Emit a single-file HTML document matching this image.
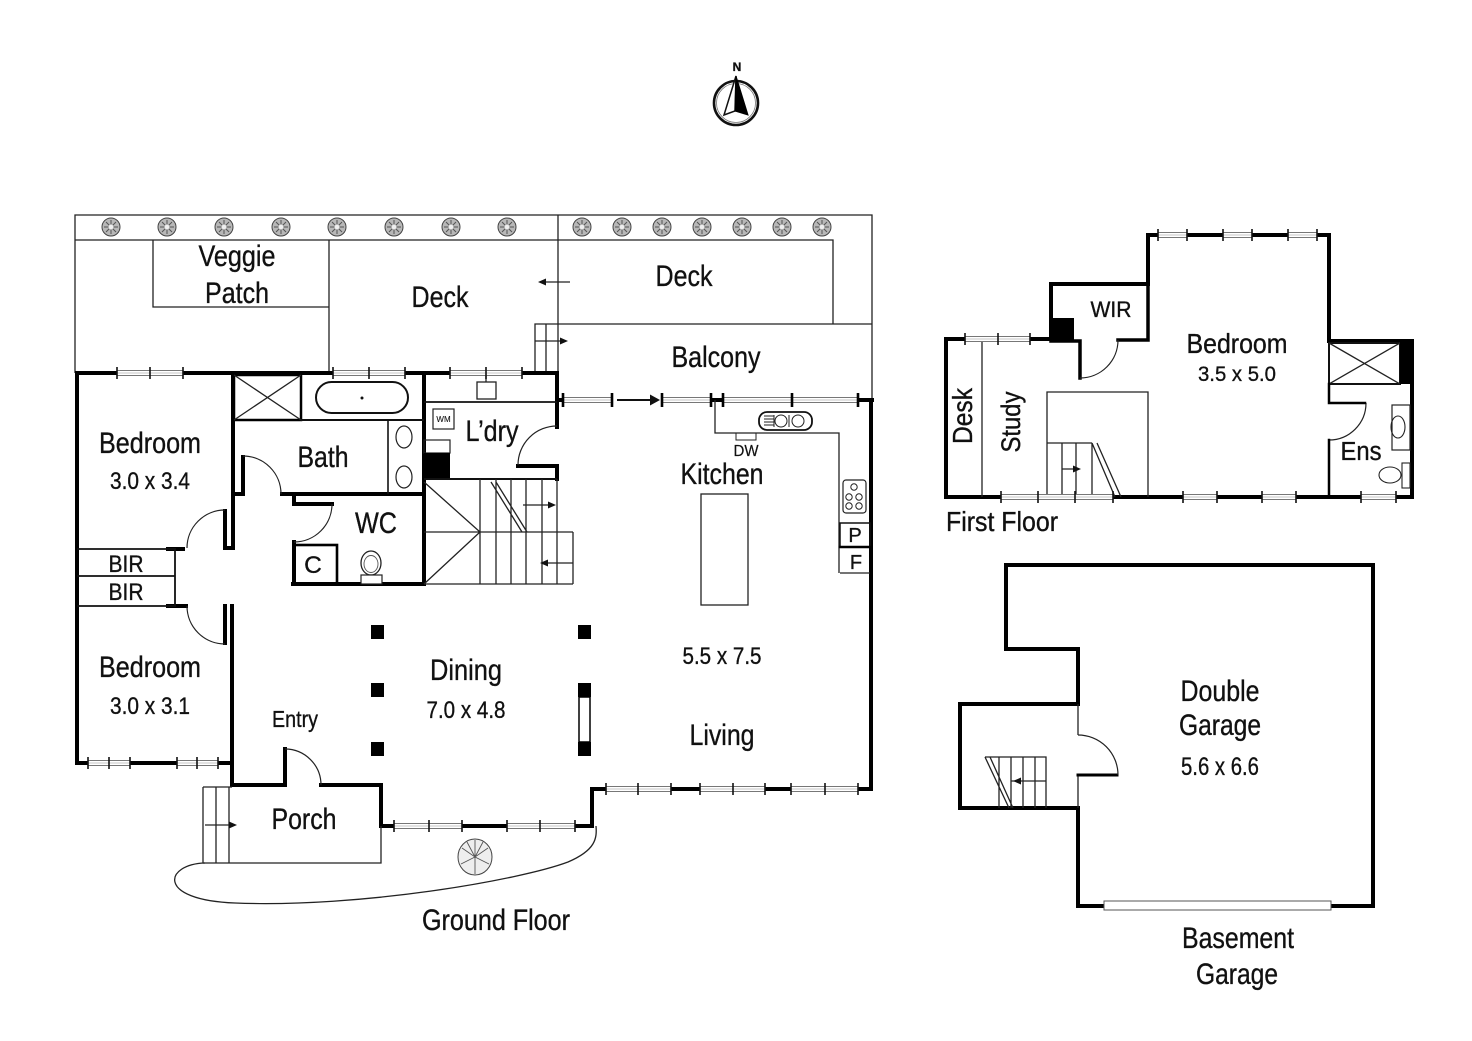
<!DOCTYPE html>
<html><head><meta charset="utf-8"><style>
html,body{margin:0;padding:0;background:#fff;}
svg{display:block;}
text{font-family:"Liberation Sans",Arial,sans-serif;fill:#111;stroke:#111;stroke-width:0.35;}
.th{stroke:#000;stroke-width:4;fill:none;stroke-linecap:square;}
.tn{stroke:#222;stroke-width:1.3;fill:none;}
.md{stroke:#111;stroke-width:2.2;fill:none;}
.dr{stroke:#222;stroke-width:1.2;fill:none;}
.wr{fill:#fff;}
.wl{stroke:#777;stroke-width:1;fill:none;}
.wc{stroke:#c4c4c4;stroke-width:1;fill:none;}
.wt{stroke:#111;stroke-width:1.6;fill:none;}
</style></head><body>
<svg width="1472" height="1041" viewBox="0 0 1472 1041" xmlns="http://www.w3.org/2000/svg">
<defs>
<g id="t"><circle r="9" fill="#b8b8b8" stroke="#444" stroke-width="1"/><path d="M-7,0H7M0,-7V7M-5,-5L5,5M-5,5L5,-5" stroke="#555" stroke-width="1"/><circle r="2.5" fill="#eee"/></g>
</defs>

<!-- North arrow -->
<circle cx="736" cy="103" r="22" fill="none" stroke="#111" stroke-width="2.6"/>
<circle cx="736" cy="103" r="19.5" fill="none" stroke="#777" stroke-width="0.8"/>
<path d="M736,76 L724,115 L735,111 Z" fill="#fff" stroke="#111" stroke-width="1.5"/>
<path d="M736,76 L748,115 L735,111 Z" fill="#000" stroke="#000" stroke-width="1"/>
<text x="737" y="71" font-size="12" font-weight="bold" text-anchor="middle">N</text>

<!-- Site thin lines -->
<path class="tn" d="M75,373V215H872V400 M75,240H833V324 M153,240V307H329 M329,240V373 M558,215V373 M535,373V324H872 M546,324V373"/>
<path class="tn" d="M540,282H570 M535,341H564"/>
<path d="M538,282 l8,-3.5 v7z M568,341 l-8,-3.5 v7z" fill="#111"/>

<!-- trees -->
<use href="#t" x="111" y="227"/><use href="#t" x="167" y="227"/><use href="#t" x="224" y="227"/><use href="#t" x="281" y="227"/>
<use href="#t" x="337" y="227"/><use href="#t" x="394" y="227"/><use href="#t" x="451" y="227"/><use href="#t" x="507" y="227"/>
<use href="#t" x="582" y="227"/><use href="#t" x="622" y="227"/><use href="#t" x="662" y="227"/><use href="#t" x="702" y="227"/>
<use href="#t" x="742" y="227"/><use href="#t" x="782" y="227"/><use href="#t" x="822" y="227"/>

<!-- Ground floor thick walls -->
<path class="th" d="M77,373H557V427 M77,373V763H232 M233,373V548 M225,511V548H233 M232,606V785H285V749 M225,606V643 M321,785H381V826H592V789H871V400 M858,400H872 M710,400H723 M557,400H563 M518,466H557V479 M424,373V584 M293,584H424 M282,494H424 M233,494H243V457 M294,494V504H332 M294,542V584"/>
<path class="th" d="M168,549H183 M168,606H186"/>
<!-- BIR -->
<path class="md" d="M77,549H175V606H77 M77,576H175" style="stroke-width:1.8"/>
<!-- shower -->
<rect x="234" y="375" width="67" height="45" fill="none" stroke="#000" stroke-width="2.5"/>
<path class="tn" d="M234,375L301,420M301,375L234,420"/>
<path class="md" d="M301,420H424" style="stroke-width:2"/>
<rect x="316" y="382" width="92" height="31" rx="15.5" fill="none" stroke="#111" stroke-width="2"/>
<circle cx="362" cy="398" r="1.5" fill="#111"/>
<path class="md" d="M388,420V494" style="stroke-width:1.6"/>
<ellipse cx="404" cy="437" rx="8" ry="11" fill="none" stroke="#222" stroke-width="1.2"/>
<ellipse cx="404" cy="477" rx="8" ry="11" fill="none" stroke="#222" stroke-width="1.2"/>
<!-- WC -->
<rect x="294" y="545" width="43" height="39" fill="none" stroke="#000" stroke-width="2.6"/>
<ellipse cx="371" cy="563" rx="10" ry="12" fill="none" stroke="#222" stroke-width="1.3"/>
<ellipse cx="371" cy="564" rx="7" ry="8.5" fill="none" stroke="#555" stroke-width="0.9"/>
<rect x="361" y="575" width="21" height="9" fill="#fff" stroke="#222" stroke-width="1.2"/>
<!-- laundry -->
<path class="md" d="M424,402H557" style="stroke-width:1.8"/>
<rect x="477" y="382" width="19" height="17" fill="none" stroke="#222" stroke-width="1.3"/>
<path class="tn" d="M486,373V382"/>
<rect x="433" y="409" width="21" height="20" fill="none" stroke="#222" stroke-width="1.2"/>
<text x="443.5" y="422" font-size="8" text-anchor="middle" style="stroke-width:0.1">WM</text>
<rect x="424" y="440" width="26" height="13" fill="none" stroke="#222" stroke-width="1.2"/>
<rect x="424" y="453" width="26" height="26" fill="#000"/>
<!-- GF stairs -->
<path class="md" d="M424,479H557" style="stroke-width:2"/>
<path class="tn" d="M480,479V584 M496,479V584 M511,479V584 M526,479V584 M542,479V584 M557,479V584 M573,532V584 M424,532H573 M424,584H573 M424,482L480,532L424,584 M491,482L522,532 M496,482L527,532"/>
<path class="tn" d="M523,505H550 M548,563H573"/>
<path d="M556,505 l-8,-3.5 v7z M540,563 l8,-3.5 v7z" fill="#111"/>
<!-- doors -->
<path class="dr" d="M557,426 A39,39 0 0 0 518,465 M243,456 A38,38 0 0 1 281,494 M332,504 A38,38 0 0 1 294,542 M225,510 A38,38 0 0 0 187,548 M187,606 A38,38 0 0 0 225,644 M285,749 A36,36 0 0 1 321,785"/>
<!-- kitchen -->
<path class="tn" d="M715,400V433H839V573 M840,573H870"/>
<rect x="840" y="523" width="30" height="24" fill="none" stroke="#111" stroke-width="1.5"/>
<path class="th" d="M840,547H870" style="stroke-width:2.5"/>
<rect x="843" y="480" width="23" height="33" rx="3" fill="none" stroke="#222" stroke-width="1.2"/>
<g fill="none" stroke="#222" stroke-width="1"><circle cx="854" cy="487" r="3.2"/><circle cx="849" cy="497" r="3.2"/><circle cx="859" cy="497" r="3.2"/><circle cx="849" cy="506" r="3.2"/><circle cx="859" cy="506" r="3.2"/></g>
<rect x="759" y="412" width="53" height="18" rx="8" fill="#fff" stroke="#111" stroke-width="1.8"/>
<path class="tn" d="M764,416H774M764,419H774M764,422H774M764,425H774 M774,415V427 M789,415V427" style="stroke-width:1"/>
<circle cx="781" cy="421" r="6" fill="none" stroke="#222" stroke-width="1"/>
<circle cx="798" cy="421" r="6" fill="none" stroke="#222" stroke-width="1"/>
<rect x="736" y="433" width="20" height="7" fill="none" stroke="#222" stroke-width="1"/>
<rect x="701" y="494" width="47" height="111" fill="none" stroke="#222" stroke-width="1.3"/>
<path d="M617,400H652" stroke="#111" stroke-width="2"/>
<path d="M650,394.5 L660,400 L650,405.5Z" fill="#111"/>
<!-- dining pillars -->
<g fill="#000"><rect x="371" y="625" width="13" height="14"/><rect x="371" y="683" width="13" height="14"/><rect x="371" y="742" width="13" height="14"/>
<rect x="578" y="625" width="13" height="14"/><rect x="578" y="683" width="13" height="14"/><rect x="578" y="742" width="13" height="14"/></g>
<rect x="579" y="697" width="11" height="45" fill="#fff" stroke="#000" stroke-width="1.5"/>
<!-- porch & path -->
<path class="tn" d="M203,863H381V826 M203,787V863 M216,787V863 M229,787V863 M203,787H232"/>
<path class="tn" d="M205,825H230"/>
<path d="M237,825 l-8,-3.5 v7z" fill="#111"/>
<path class="tn" d="M205,863 C165,864 155,900 235,903 C360,908 520,880 568,862 C596,850 597,838 596,826"/>
<ellipse cx="475" cy="857" rx="17" ry="18" fill="#eee" stroke="#444" stroke-width="1"/>
<path d="M475,840V874 M462,848L475,857L488,848 M461,864L475,857L489,864 M467,842L475,857L483,842" stroke="#555" stroke-width="0.9" fill="none"/>

<!-- First floor -->
<path class="th" d="M946,339H1051V284H1148V235H1329V341H1412V497H946Z"/>
<rect x="1051" y="318" width="23" height="23" fill="#000"/>
<path class="th" d="M1051,341H1080V378 M1118,340H1148V284" style="stroke-width:3.5"/>
<path class="dr" d="M1080,378 A38,38 0 0 0 1118,340 M1366,403 A37,37 0 0 1 1329,440"/>
<path class="tn" d="M982,339V497 M1047,497V392H1148V497 M1047,443H1092 M1062,443V497 M1076,443V497 M1092,443V497 M1092,443L1115,497 M1097,443L1121,497 M1062,469H1076"/>
<path d="M1081,469 l-8,-3.5 v7z" fill="#111"/>
<rect x="1329" y="343" width="71" height="41" fill="none" stroke="#111" stroke-width="2"/>
<path class="tn" d="M1329,343L1400,384M1400,343L1329,384"/>
<rect x="1400" y="341" width="12" height="43" fill="#000"/>
<path class="th" d="M1329,384V403H1365 M1329,440V497" style="stroke-width:2.5"/>
<rect x="1392" y="405" width="18" height="45" fill="none" stroke="#222" stroke-width="1.2"/>
<ellipse cx="1398" cy="427" rx="7" ry="11" fill="none" stroke="#222" stroke-width="1.1"/>
<ellipse cx="1390" cy="475" rx="11" ry="8" fill="none" stroke="#222" stroke-width="1.1"/>
<rect x="1402" y="463" width="8" height="25" fill="#fff" stroke="#222" stroke-width="1.1"/>

<!-- Garage -->
<path class="th" d="M1078,704H960V808H1078V906H1373V565H1006V649H1078V704"/>
<path class="tn" d="M1078,704V735 M1078,775V808"/>
<path class="th" d="M1078,775H1117" style="stroke-width:3"/>
<path class="dr" d="M1078,735 A40,40 0 0 1 1118,775"/>
<path class="tn" d="M985,757H1046V808 M999,757V808 M1011,757V808 M1023,757V808 M1035,757V808 M1011,781H1046 M985,757L1009,808 M990,757L1013,808 M1020,781H1035"/>
<path d="M1013,781 l8,-3.5 v7z" fill="#111"/>
<rect x="1104" y="901" width="227" height="9" fill="#fff" stroke="#555" stroke-width="1"/>

<!-- Windows -->
<g class="wr">
<rect x="117" y="370" width="66" height="6"/><rect x="333" y="370" width="72" height="6"/><rect x="450" y="370" width="72" height="6"/>
<rect x="88" y="760" width="42" height="6"/><rect x="177" y="760" width="41" height="6"/>
<rect x="394" y="823" width="68" height="6"/><rect x="507" y="823" width="68" height="6"/>
<rect x="606" y="786" width="65" height="6"/><rect x="700" y="786" width="65" height="6"/><rect x="791" y="786" width="67" height="6"/>
<rect x="563" y="397" width="49" height="6"/><rect x="662" y="397" width="49" height="6"/><rect x="723" y="397" width="135" height="6"/>
<rect x="965" y="336" width="65" height="6"/><rect x="1158" y="232" width="29" height="6"/><rect x="1223" y="232" width="29" height="6"/><rect x="1288" y="232" width="29" height="6"/>
<rect x="1001" y="494" width="112" height="6"/><rect x="1183" y="494" width="34" height="6"/><rect x="1262" y="494" width="34" height="6"/><rect x="1361" y="494" width="35" height="6"/>
</g>
<path class="wl" d="M117,370.5H183M117,375.5H183 M333,370.5H405M333,375.5H405 M450,370.5H522M450,375.5H522 M88,760.5H130M88,765.5H130 M177,760.5H218M177,765.5H218 M394,823.5H462M394,828.5H462 M507,823.5H575M507,828.5H575 M606,786.5H671M606,791.5H671 M700,786.5H765M700,791.5H765 M791,786.5H858M791,791.5H858 M563,397.5H612M563,402.5H612 M662,397.5H711M662,402.5H711 M723,397.5H858M723,402.5H858 M965,336.5H1030M965,341.5H1030 M1158,232.5H1187M1158,237.5H1187 M1223,232.5H1252M1223,237.5H1252 M1288,232.5H1317M1288,237.5H1317 M1001,494.5H1113M1001,499.5H1113 M1183,494.5H1217M1183,499.5H1217 M1262,494.5H1296M1262,499.5H1296 M1361,494.5H1396M1361,499.5H1396"/>
<path class="wc" d="M117,373H183 M333,373H405 M450,373H522 M88,763H130 M177,763H218 M394,826H462 M507,826H575 M606,789H671 M700,789H765 M791,789H858 M563,400H612 M662,400H711 M723,400H858 M965,339H1030 M1158,235H1187 M1223,235H1252 M1288,235H1317 M1001,497H1113 M1183,497H1217 M1262,497H1296 M1361,497H1396"/>
<path class="wt" d="M117,367V379M183,367V379M150,367V379 M333,367V379M405,367V379M369,367V379 M450,367V379M522,367V379M486,367V379 M88,757V769M130,757V769M109,757V769 M177,757V769M218,757V769M197,757V769 M394,820V832M462,820V832M429,820V832 M507,820V832M575,820V832M540,820V832 M606,783V795M671,783V795M638,783V795 M700,783V795M765,783V795M733,783V795 M791,783V795M858,783V795M825,783V795 M965,333V345M1030,333V345M998,333V345 M1158,229V241M1187,229V241 M1223,229V241M1252,229V241 M1288,229V241M1317,229V241 M1001,491V503M1113,491V503M1038,491V503M1075,491V503 M1183,491V503M1217,491V503 M1262,491V503M1296,491V503 M1361,491V503M1396,491V503"/>
<path d="M563,393V407 M612,393V407 M662,393V407 M711,393V407 M723,393V407 M858,393V407 M792,393V407" stroke="#000" stroke-width="2.6"/>

<!-- Labels -->
<g font-size="29.5" text-anchor="middle">
<text x="237" y="266" textLength="77" lengthAdjust="spacingAndGlyphs">Veggie</text>
<text x="237" y="303" textLength="64" lengthAdjust="spacingAndGlyphs">Patch</text>
<text x="440" y="307" textLength="57" lengthAdjust="spacingAndGlyphs">Deck</text>
<text x="684" y="286" textLength="57" lengthAdjust="spacingAndGlyphs">Deck</text>
<text x="716" y="367" textLength="89" lengthAdjust="spacingAndGlyphs">Balcony</text>
<text x="150" y="453" textLength="102" lengthAdjust="spacingAndGlyphs">Bedroom</text>
<text x="323" y="467" textLength="51" lengthAdjust="spacingAndGlyphs">Bath</text>
<text x="492" y="441" textLength="53" lengthAdjust="spacingAndGlyphs">L’dry</text>
<text x="376" y="533" textLength="42" lengthAdjust="spacingAndGlyphs">WC</text>
<text x="722" y="484" textLength="83" lengthAdjust="spacingAndGlyphs">Kitchen</text>
<text x="150" y="677" textLength="102" lengthAdjust="spacingAndGlyphs">Bedroom</text>
<text x="466" y="680" textLength="72" lengthAdjust="spacingAndGlyphs">Dining</text>
<text x="722" y="745" textLength="65" lengthAdjust="spacingAndGlyphs">Living</text>
<text x="304" y="829" textLength="65" lengthAdjust="spacingAndGlyphs">Porch</text>
<text x="496" y="930" textLength="148" lengthAdjust="spacingAndGlyphs">Ground Floor</text>
<text x="1237" y="353" font-size="27.5" textLength="101" lengthAdjust="spacingAndGlyphs">Bedroom</text>
<text x="1220" y="701" textLength="79" lengthAdjust="spacingAndGlyphs">Double</text>
<text x="1220" y="735" textLength="82" lengthAdjust="spacingAndGlyphs">Garage</text>
<text x="1238" y="948" textLength="112" lengthAdjust="spacingAndGlyphs">Basement</text>
<text x="1237" y="984" textLength="82" lengthAdjust="spacingAndGlyphs">Garage</text>
</g>
<g font-size="24.5" text-anchor="middle">
<text x="150" y="489" textLength="80" lengthAdjust="spacingAndGlyphs">3.0 x 3.4</text>
<text x="150" y="714" textLength="80" lengthAdjust="spacingAndGlyphs">3.0 x 3.1</text>
<text x="466" y="718" textLength="79" lengthAdjust="spacingAndGlyphs">7.0 x 4.8</text>
<text x="722" y="664" textLength="79" lengthAdjust="spacingAndGlyphs">5.5 x 7.5</text>
<text x="295" y="727" font-size="23.5" textLength="46" lengthAdjust="spacingAndGlyphs">Entry</text>
<text x="126" y="572" textLength="35" lengthAdjust="spacingAndGlyphs">BIR</text>
<text x="126" y="600" textLength="35" lengthAdjust="spacingAndGlyphs">BIR</text>
<text x="313" y="573">C</text>
<text x="1111" y="317" font-size="22" textLength="41" lengthAdjust="spacingAndGlyphs">WIR</text>
<text x="1237" y="381" font-size="21.5" textLength="78" lengthAdjust="spacingAndGlyphs">3.5 x 5.0</text>
<text x="1361" y="460" font-size="25.5" textLength="41" lengthAdjust="spacingAndGlyphs">Ens</text>
<text x="1220" y="775" font-size="25" textLength="78" lengthAdjust="spacingAndGlyphs">5.6 x 6.6</text>
<text x="746" y="456" font-size="16" textLength="25" lengthAdjust="spacingAndGlyphs" style="stroke-width:0.2">DW</text>
<text x="855" y="542" font-size="20">P</text>
<text x="856" y="569" font-size="20">F</text>
</g>
<text x="946" y="531" font-size="27.5" textLength="112" lengthAdjust="spacingAndGlyphs">First Floor</text>
<text transform="translate(972,416) rotate(-90)" font-size="28" text-anchor="middle" textLength="56" lengthAdjust="spacingAndGlyphs">Desk</text>
<text transform="translate(1020,422) rotate(-90)" font-size="27" text-anchor="middle" textLength="61" lengthAdjust="spacingAndGlyphs">Study</text>
</svg>
</body></html>
